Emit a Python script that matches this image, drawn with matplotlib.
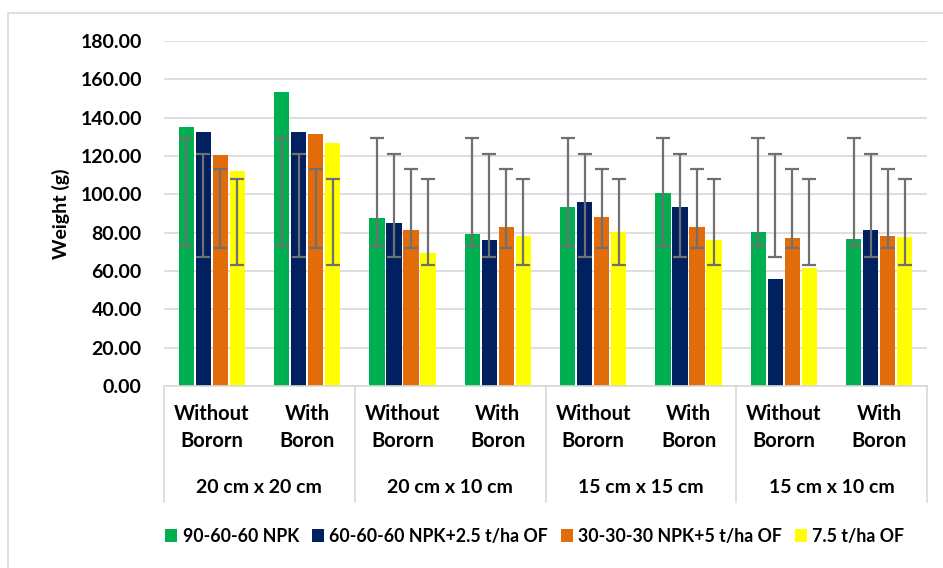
import numpy as np
import matplotlib.pyplot as plt
from matplotlib.patches import Rectangle

plt.rcParams['font.family'] = ['Lato', 'DejaVu Sans']
plt.rcParams['font.weight'] = 'bold'

sub_labels = ["Without\nBororn", "With\nBoron"] * 4
spacings = ["20 cm x 20 cm", "20 cm x 10 cm", "15 cm x 15 cm", "15 cm x 10 cm"]
series = ["90-60-60 NPK", "60-60-60 NPK+2.5 t/ha OF", "30-30-30 NPK+5 t/ha OF", "7.5 t/ha OF"]

npk90 = [135.1, 153.5, 87.5, 79.1, 93.5, 100.5, 80.5, 76.9]
npk60 = [132.7, 132.7, 85.2, 76.2, 96.2, 93.5, 56.0, 81.6]
npk30 = [120.5, 131.5, 81.6, 83.1, 88.3, 82.9, 77.0, 78.4]
of75 = [112.2, 126.6, 69.2, 78.4, 80.5, 76.2, 61.6, 77.6]

# error bars: same centre and half-width for every group of a series
err_mid = [101.2, 94.2, 92.7, 85.5]
err_half = [28.2, 26.8, 20.7, 22.5]

colors = ["#00B050", "#002060", "#E36C0A", "#FFFF00"]

fig = plt.figure(figsize=(9.43, 5.68), dpi=100)
ax = fig.add_axes([164/943, 182/568, 763/943, 345/568])

x = np.arange(len(sub_labels))
step = 0.178
width = 0.16
for i, vals in enumerate([npk90, npk60, npk30, of75]):
    pos = x + (i - 1.5) * step
    ax.bar(pos, vals, width, color=colors[i], label=series[i], zorder=2)
    ax.errorbar(pos, [err_mid[i]] * len(x), yerr=err_half[i], fmt='none',
                ecolor='#707070', elinewidth=1.6, capsize=5, capthick=1.6, zorder=3)

ax.set_xlim(-0.5, 7.5)
ax.set_ylim(0, 180)
ax.set_yticks(np.arange(0, 181, 20))
ax.set_yticklabels(["%.2f" % v for v in np.arange(0, 181, 20)], fontsize=14)
ax.yaxis.grid(True, color='#d9d9d9', linewidth=1.2, zorder=0)
ax.set_axisbelow(True)
ax.tick_params(axis='y', length=0, pad=16)
ax.set_ylabel("Weight (g)", fontsize=14, fontweight='bold')
ax.yaxis.set_label_coords(-0.123, 0.5)

ax.set_xticks(x)
ax.set_xticklabels(sub_labels, fontsize=14.5, linespacing=1.45)
ax.tick_params(axis='x', length=0, pad=13)

for s in ['top', 'right', 'left']:
    ax.spines[s].set_visible(False)
ax.spines['bottom'].set_color('#d9d9d9')
ax.spines['bottom'].set_linewidth(1.2)

tr = ax.get_xaxis_transform()
for b in [-0.5, 1.5, 3.5, 5.5, 7.5]:
    ax.plot([b, b], [0, -0.336], transform=tr, color='#d9d9d9', lw=1.2, clip_on=False)
for j, lab in enumerate(spacings):
    ax.text(2 * j + 0.5, -0.293, lab, transform=tr, ha='center', va='center', fontsize=14)

fig.legend(loc='center', bbox_to_anchor=(0.567, 0.056), ncol=4, frameon=False,
           fontsize=12.8, handlelength=0.7, handleheight=0.7, handletextpad=0.3,
           columnspacing=0.7)

fig.patches.append(Rectangle((8/943, -0.1), 1.2, 1 - 13/568 + 0.1, transform=fig.transFigure,
                             fill=False, edgecolor='#d9d9d9', lw=1.2))

fig.savefig("out.png", dpi=100)
